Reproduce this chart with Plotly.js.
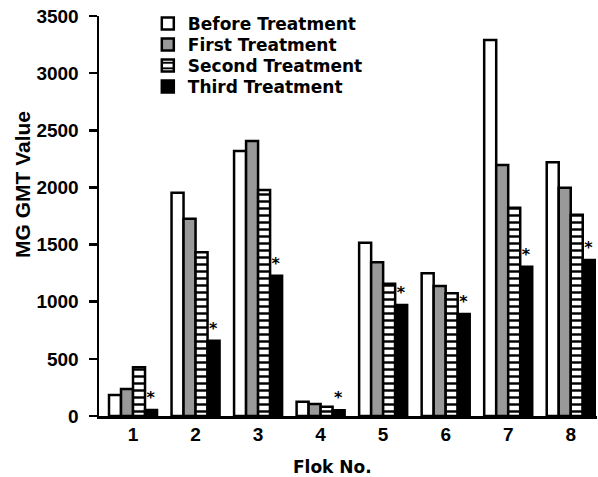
<!DOCTYPE html>
<html>
<head>
<meta charset="utf-8">
<script src="https://cdn.plot.ly/plotly-3.0.1.min.js"></script>
<style>html,body{margin:0;padding:0;background:#fff;}#chart{width:598px;height:477px;}</style>
</head>
<body>
<div id="chart"></div>
<script>
var floks = [1, 2, 3, 4, 5, 6, 7, 8];
var tickLabels = ["1", "2", "3", "4", "5", "6", "7", "8"];
var seriesNames = ["Before Treatment", "First Treatment", "Second Treatment", "Third Treatment"];
var beforeTreatment = [184, 1954, 2319, 125, 1517, 1248, 3290, 2220];
var firstTreatment = [236, 1727, 2406, 105, 1345, 1137, 2196, 1998];
var secondTreatment = [426, 1432, 1978, 81, 1158, 1073, 1823, 1762];
var thirdTreatment = [52, 659, 1228, 50, 971, 892, 1307, 1365];
var significance = ["*", "*", "*", "*", "*", "*", "*", "*"];

var lineStyle = {color: "#000", width: 2.5};
var traces = [
  {type: "bar", x: floks, y: beforeTreatment, name: seriesNames[0], legend: "legend",
   marker: {color: "#ffffff", line: lineStyle}},
  {type: "bar", x: floks, y: firstTreatment, name: seriesNames[1], legend: "legend2",
   marker: {color: "#999999", line: lineStyle}},
  {type: "bar", x: floks, y: secondTreatment, name: seriesNames[2], legend: "legend3",
   marker: {color: "#ffffff", line: lineStyle,
     pattern: {shape: "-", fgcolor: "#000", bgcolor: "#fff", size: 7, solidity: 0.35, fillmode: "replace"}}},
  {type: "bar", x: floks, y: thirdTreatment, name: seriesNames[3], legend: "legend4",
   marker: {color: "#000000", line: lineStyle},
   text: significance, textposition: "outside", constraintext: "none", cliponaxis: false,
   textfont: {family: "DejaVu Sans", size: 16, weight: "bold", color: "#000"}}
];

var fontB = "DejaVu Sans";
var fontA = "Liberation Sans";
function legendAt(yc) {
  return {x: 0.098, xanchor: "left", y: yc, yanchor: "middle",
    font: {family: fontB, size: 17, weight: "bold", color: "#000"},
    bgcolor: "rgba(0,0,0,0)", borderwidth: 0};
}
var layout = {
  width: 598, height: 477,
  margin: {l: 99, r: 1, t: 16, b: 61, pad: 0},
  paper_bgcolor: "#fff", plot_bgcolor: "#fff",
  barmode: "group", bargap: 0.232, bargroupgap: 0,
  showlegend: true,
  font: {family: fontB, color: "#000"},
  legend: legendAt(0.98),
  legend2: legendAt(0.9275),
  legend3: legendAt(0.875),
  legend4: legendAt(0.8225),
  xaxis: {range: [0.456, 8.42], tickvals: floks, ticktext: tickLabels,
    showline: true, linecolor: "#000", linewidth: 2.5, showgrid: false, zeroline: false,
    ticks: "", tickfont: {family: fontA, size: 19, weight: "bold", color: "#000"},
    ticklabelstandoff: 0, fixedrange: true},
  yaxis: {range: [0, 3500], tickvals: [0, 500, 1000, 1500, 2000, 2500, 3000, 3500],
    showline: true, linecolor: "#000", linewidth: 2.5, showgrid: false, zeroline: false,
    ticks: "outside", ticklen: 8, tickwidth: 2.5, tickcolor: "#000",
    tickfont: {family: fontA, size: 19, weight: "bold", color: "#000"},
    ticklabelstandoff: 6, fixedrange: true},
  annotations: [
    {text: "Flok No.", xref: "paper", yref: "paper", x: 0.468, y: -0.1275,
     xanchor: "center", yanchor: "middle", showarrow: false,
     font: {family: fontB, size: 17, weight: "bold", color: "#000"}},
    {text: "MG GMT Value", xref: "paper", yref: "paper", x: -0.1546, y: 0.5775,
     xanchor: "center", yanchor: "middle", showarrow: false, textangle: -90,
     font: {family: fontA, size: 21, weight: "bold", color: "#000"}}
  ]
};

Plotly.newPlot("chart", traces, layout, {displayModeBar: false, staticPlot: true});
</script>
</body>
</html>
